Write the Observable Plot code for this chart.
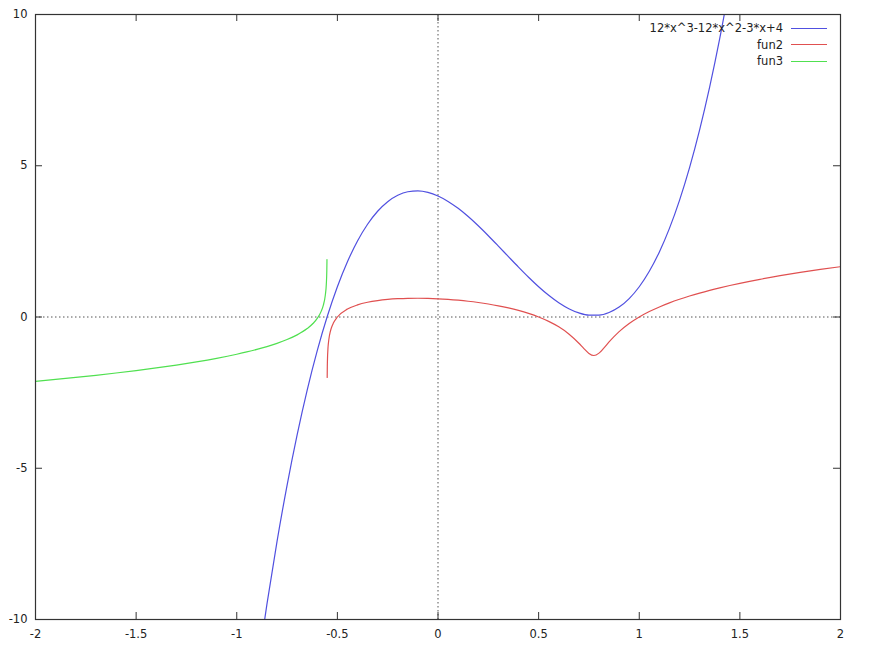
<!DOCTYPE html>
<html>
<head>
<meta charset="utf-8">
<script src="https://cdn.jsdelivr.net/npm/d3@7"></script>
<script src="https://cdn.jsdelivr.net/npm/@observablehq/plot@0.6"></script>
<style>
  html, body { margin: 0; padding: 0; background: #fff; }
  #wrap { position: relative; width: 875px; height: 651px; font-family: "DejaVu Sans", sans-serif; }
  #legend { position: absolute; right: 48px; top: 20px; font-size: 11.5px; color: #222; }
  #legend .row { display: flex; align-items: center; justify-content: flex-end; height: 16.5px; }
  #legend .sw { width: 36px; height: 0; border-top: 1.2px solid; margin-left: 8px; }
</style>
</head>
<body>
<div id="wrap"></div>
<script>
// Tick values
const xTicks = [-2, -1.5, -1, -0.5, 0, 0.5, 1, 1.5, 2];
const yTicks = [-10, -5, 0, 5, 10];

// Series 1: 12*x^3-12*x^2-3*x+4
const blueX = [-0.9, -0.85, -0.8, -0.75, -0.7, -0.65, -0.6, -0.55, -0.5, -0.45, -0.4, -0.35, -0.3, -0.25, -0.2, -0.15, -0.1, -0.05, 0, 0.05, 0.1, 0.15, 0.2, 0.25, 0.3, 0.35, 0.4, 0.45, 0.5, 0.55, 0.6, 0.65, 0.7, 0.75, 0.8, 0.85, 0.9, 0.95, 1.0, 1.05, 1.1, 1.15, 1.2, 1.25, 1.3, 1.35, 1.4, 1.45];
const blueY = [-11.768, -9.4895, -7.424, -5.5625, -3.896, -2.4155, -1.112, 0.0235, 1.0, 1.8265, 2.512, 3.0655, 3.496, 3.8125, 4.024, 4.1395, 4.168, 4.1185, 4.0, 3.8215, 3.592, 3.3205, 3.016, 2.6875, 2.344, 1.9945, 1.648, 1.3135, 1.0, 0.7165, 0.472, 0.2755, 0.136, 0.0625, 0.064, 0.1495, 0.328, 0.6085, 1.0, 1.5115, 2.152, 2.9305, 3.856, 4.9375, 6.184, 7.6045, 9.208, 11.0035];

// Series 2: fun2
const redX = [-0.5506, -0.55, -0.5496, -0.5464, -0.545, -0.54, -0.5358, -0.53, -0.52, -0.5, -0.45, -0.4, -0.35, -0.3, -0.25, -0.2, -0.15, -0.1, -0.05, 0, 0.05, 0.1, 0.15, 0.2, 0.25, 0.3, 0.35, 0.4, 0.45, 0.5, 0.55, 0.6, 0.65, 0.7, 0.725, 0.75, 0.7743, 0.8, 0.825, 0.85, 0.9, 0.95, 1.0, 1.05, 1.1, 1.15, 1.2, 1.25, 1.3, 1.35, 1.4, 1.45, 1.5, 1.6, 1.7, 1.8, 1.9, 2.0];
const redY = [-2.0, -1.629, -1.5, -1.0, -0.893, -0.637, -0.5, -0.3638, -0.202, 0, 0.2616, 0.4, 0.4865, 0.5436, 0.5812, 0.6046, 0.617, 0.6199, 0.6147, 0.6021, 0.5822, 0.5553, 0.5212, 0.4794, 0.4294, 0.37, 0.2998, 0.217, 0.1184, 0, -0.1448, -0.3261, -0.5599, -0.8665, -1.0436, -1.2041, -1.2725, -1.1938, -1.019, -0.8254, -0.4841, -0.2157, 0, 0.1794, 0.3328, 0.4669, 0.5861, 0.6935, 0.7913, 0.8811, 0.9642, 1.0415, 1.1139, 1.2463, 1.365, 1.4728, 1.5716, 1.6628];

// Series 3: fun3
const greenX = [-2, -1.9, -1.8, -1.7, -1.6, -1.5, -1.4, -1.3, -1.2, -1.1, -1.0, -0.95, -0.9, -0.85, -0.8, -0.75, -0.7, -0.65, -0.62, -0.6, -0.58, -0.57, -0.56, -0.555, -0.5525, -0.5518, -0.5517];
const greenY = [-2.1271, -2.0642, -1.9977, -1.927, -1.8517, -1.7709, -1.6835, -1.5882, -1.4831, -1.3654, -1.2304, -1.1544, -1.0707, -0.9772, -0.8707, -0.7453, -0.5906, -0.383, -0.2076, -0.0461, 0.1951, 0.3861, 0.7199, 1.0811, 1.5277, 1.8291, 1.9];

const seriesNames = ["12*x^3-12*x^2-3*x+4", "fun2", "fun3"];
const seriesColors = ["#5050e0", "#e05050", "#50e050"];

const toPts = (xs, ys) => xs.map((x, i) => ({x, y: ys[i]}));
const blue = toPts(blueX, blueY);
const red = toPts(redX, redY);
const green = toPts(greenX, greenY);

const W = 875, H = 651, mL = 35, mR = 35, mT = 14, mB = 32;
const fw = W - mL - mR, fh = H - mT - mB;
const tk = 7;
const tickColor = "#333";
const font = "DejaVu Sans, sans-serif";

const chart = Plot.plot({
  width: W,
  height: H,
  marginLeft: mL,
  marginRight: mR,
  marginTop: mT,
  marginBottom: mB,
  style: {fontFamily: font, fontSize: "11.5px", color: "#222", background: "#fff"},
  x: {domain: [-2, 2]},
  y: {domain: [-10, 10]},
  marks: [
    Plot.ruleY([0], {stroke: "#555", strokeDasharray: "1.5,2.5", strokeWidth: 1}),
    Plot.ruleX([0], {stroke: "#555", strokeDasharray: "1.5,2.5", strokeWidth: 1}),
    // inward ticks, bottom & top
    Plot.tickX(xTicks, {x: d => d, stroke: tickColor, insetTop: fh - tk}),
    Plot.tickX(xTicks, {x: d => d, stroke: tickColor, insetBottom: fh - tk}),
    // inward ticks, left & right
    Plot.tickY(yTicks, {y: d => d, stroke: tickColor, insetRight: fw - tk}),
    Plot.tickY(yTicks, {y: d => d, stroke: tickColor, insetLeft: fw - tk}),
    Plot.axisX({ticks: xTicks, tickSize: 0, tickPadding: 10, label: null, tickFormat: d => String(d)}),
    Plot.axisY({ticks: yTicks, tickSize: 0, tickPadding: 8, label: null, tickFormat: d => String(d)}),
    Plot.line(blue, {x: "x", y: "y", stroke: seriesColors[0], strokeWidth: 1.2, curve: "monotone-x", clip: true}),
    Plot.line(red, {x: "x", y: "y", stroke: seriesColors[1], strokeWidth: 1.2, curve: "monotone-x", clip: true}),
    Plot.line(green, {x: "x", y: "y", stroke: seriesColors[2], strokeWidth: 1.2, curve: "monotone-x", clip: true}),
    Plot.frame({stroke: "#333", strokeWidth: 1.2})
  ]
});

const wrap = document.getElementById("wrap");
wrap.appendChild(chart);

const legend = document.createElement("div");
legend.id = "legend";
seriesNames.forEach((name, i) => {
  const row = document.createElement("div");
  row.className = "row";
  const t = document.createElement("span");
  t.textContent = name;
  const sw = document.createElement("span");
  sw.className = "sw";
  sw.style.borderTopColor = seriesColors[i];
  row.appendChild(t);
  row.appendChild(sw);
  legend.appendChild(row);
});
wrap.appendChild(legend);
</script>
</body>
</html>
